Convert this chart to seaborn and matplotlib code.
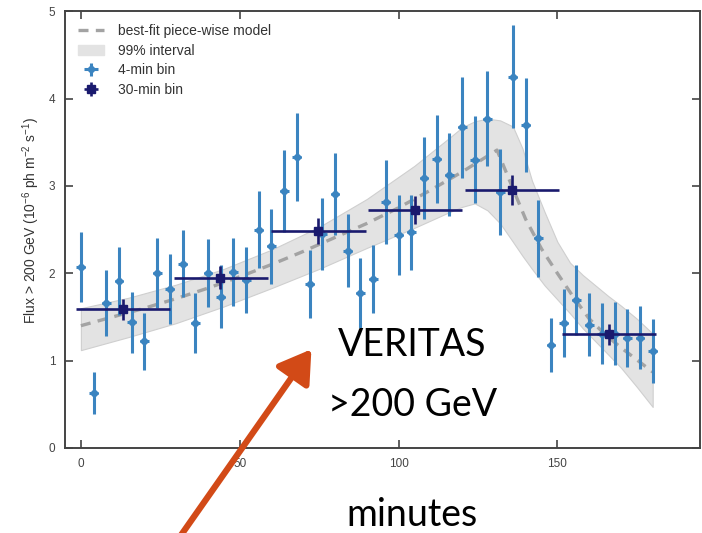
import numpy as np
import pandas as pd
import matplotlib
matplotlib.use("Agg")
import matplotlib.pyplot as plt
import seaborn as sns
from matplotlib.lines import Line2D
from matplotlib.patches import Patch

# ---------------- data ----------------
t4 = list(range(0, 184, 4))
flux4 = [2.07, 0.63, 1.66, 1.91, 1.44, 1.22, 2.00, 1.82, 2.11, 1.43,
         2.00, 1.73, 2.01, 1.92, 2.50, 2.31, 2.94, 3.33, 1.88, 2.45,
         2.91, 2.26, 1.77, 1.93, 2.82, 2.44, 2.47, 3.09, 3.31, 3.13,
         3.67, 3.30, 3.77, 2.93, 4.25, 3.70, 2.40, 1.18, 1.43, 1.69,
         1.41, 1.31, 1.31, 1.26, 1.26, 1.11]
err4 = [0.40, 0.24, 0.38, 0.39, 0.35, 0.33, 0.40, 0.40, 0.38, 0.34,
        0.39, 0.36, 0.39, 0.38, 0.44, 0.43, 0.47, 0.50, 0.39, 0.41,
        0.47, 0.42, 0.40, 0.39, 0.48, 0.46, 0.43, 0.47, 0.50, 0.48,
        0.58, 0.50, 0.54, 0.49, 0.59, 0.54, 0.44, 0.31, 0.39, 0.40,
        0.36, 0.35, 0.36, 0.33, 0.36, 0.37]

t30 = [13.3, 43.9, 74.6, 105.1, 135.7, 166.4]
t30_lo = [-1.5, 29.2, 59.8, 90.3, 120.8, 151.5]
t30_hi = [28.1, 58.9, 89.6, 120.0, 150.6, 181.2]
flux30 = [1.59, 1.95, 2.48, 2.72, 2.95, 1.30]
err30 = [0.12, 0.13, 0.15, 0.16, 0.17, 0.12]

model_t = [0, 10, 20, 30, 40, 50, 60, 70, 80, 90, 100, 110, 120, 131,
           136, 140, 145, 150, 155, 160, 165, 170, 175, 180]
model_f = [1.40, 1.50, 1.60, 1.71, 1.83, 1.96, 2.10, 2.25, 2.41, 2.57,
           2.75, 2.95, 3.16, 3.41, 2.97, 2.62, 2.28, 2.00, 1.73, 1.48,
           1.30, 1.15, 1.01, 0.87]

band_t = [0, 15, 30, 45, 60, 75, 90, 105, 116, 120, 124, 128, 132, 136,
          139, 142, 146, 150, 154, 158, 162, 166, 170, 175, 180]
band_hi = [1.60, 1.72, 1.87, 2.05, 2.27, 2.53, 2.85, 3.23, 3.55, 3.67,
           3.74, 3.77, 3.75, 3.68, 3.43, 3.06, 2.70, 2.36, 2.12, 1.98,
           1.86, 1.74, 1.63, 1.48, 1.31]
band_lo = [1.12, 1.27, 1.43, 1.62, 1.83, 2.05, 2.29, 2.52, 2.70, 2.76,
           2.80, 2.72, 2.57, 2.36, 2.20, 2.05, 1.86, 1.70, 1.54, 1.37,
           1.22, 1.07, 0.92, 0.70, 0.47]

xticks = [0, 50, 100, 150]
yticks = [0, 1, 2, 3, 4, 5]

# ---------------- style ----------------
sns.set_style("white")
plt.rcParams['font.family'] = ['Liberation Sans', 'DejaVu Sans']
plt.rcParams['mathtext.fontset'] = 'custom'
plt.rcParams['mathtext.rm'] = 'Liberation Sans'

c4 = "#3b84c0"
c30 = "#1a1a6e"
cmodel = "#a3a3a3"

fig = plt.figure(figsize=(7.02, 5.33), dpi=100)
ax = fig.add_axes([0.0926, 0.1595, 0.905, 0.8195])

ax.fill_between(band_t, band_lo, band_hi, color="#e3e3e3", edgecolor="#cfcfcf",
                linewidth=0.8, zorder=1)
df_model = pd.DataFrame({"t": model_t, "f": model_f})
sns.lineplot(data=df_model, x="t", y="f", ax=ax, color=cmodel, lw=2.4,
             linestyle=(0, (3, 2.2)), zorder=2)

ax.errorbar(t4, flux4, yerr=err4, xerr=1.4, fmt="D", color=c4, ms=4,
            elinewidth=2.2, capsize=0, zorder=3)
xerr30 = [np.array(t30) - np.array(t30_lo), np.array(t30_hi) - np.array(t30)]
ax.errorbar(t30, flux30, yerr=err30, xerr=xerr30, fmt="s", color=c30, ms=6,
            elinewidth=1.9, capsize=0, zorder=4)

ax.set_xlim(-5, 195)
ax.set_ylim(0, 5)
ax.set_xticks(xticks)
ax.set_yticks(yticks)
ax.set_xlabel("")
ax.set_ylabel(r"Flux > 200 GeV (10$^{-6}$ ph m$^{-2}$ s$^{-1}$)", fontsize=10,
              color="#333333")
ax.yaxis.set_label_coords(-0.036, 0.52)
ax.tick_params(direction="in", top=True, right=True, bottom=True, left=True,
               length=6, width=1.2, labelsize=8.5, colors="#444444", pad=7)
for s in ax.spines.values():
    s.set_color("#444444")
    s.set_linewidth(1.4)

handles = [
    Line2D([], [], color=cmodel, lw=2.4, linestyle=(0, (3, 2.2))),
    Patch(facecolor="#e3e3e3", edgecolor="#e3e3e3"),
    ax.errorbar([], [], yerr=[], xerr=[], fmt="D", color=c4, ms=4, elinewidth=2.2),
    ax.errorbar([], [], yerr=[], xerr=[], fmt="s", color=c30, ms=6, elinewidth=1.9),
]
labels = ["best-fit piece-wise model", "99% interval", "4-min bin", "30-min bin"]
leg = ax.legend(handles, labels, loc="upper left", frameon=False, fontsize=10,
                handlelength=1.9, handletextpad=1.0, labelspacing=0.42,
                borderaxespad=0.5, bbox_to_anchor=(0.0, 1.0))
for t in leg.get_texts():
    t.set_color("#333333")

# overlaid slide annotations
fig.text(0.587, 1 - 345 / 533, "VERITAS", fontsize=27, family=["Lato", "DejaVu Sans"],
         ha="center", va="center", color="black")
fig.text(0.587, 1 - 405 / 533, ">200 GeV", fontsize=27, family=["Lato", "DejaVu Sans"],
         ha="center", va="center", color="black")
fig.text(0.587, 1 - 515 / 533, "minutes", fontsize=27, family=["Lato", "DejaVu Sans"],
         ha="center", va="center", color="black")
fig.add_artist(matplotlib.patches.FancyArrowPatch(
    (172 / 702, 1 - 548 / 533), (313 / 702, 1 - 347 / 533),
    transform=fig.transFigure, arrowstyle="-|>,head_length=1.6,head_width=1.0",
    mutation_scale=12, color="#d24a17", lw=4.5, clip_on=False))

fig.savefig("out.png", dpi=100)
